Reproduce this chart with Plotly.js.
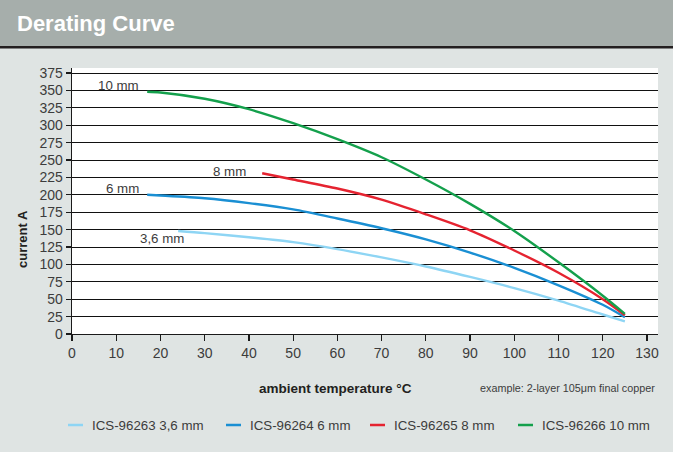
<!DOCTYPE html>
<html>
<head>
<meta charset="utf-8">
<script src="https://cdn.plot.ly/plotly-3.0.1.min.js"></script>
<style>
html,body{margin:0;padding:0;background:#dfe4e3;}
#chart{width:673px;height:452px;}
</style>
</head>
<body>
<div id="chart"></div>
<script>
// ---- data ----
var temp36 = [24, 30, 40, 50, 60, 70, 80, 90, 100, 110, 120, 125];
var curr36 = [148, 145, 139, 132, 122, 110, 97, 82, 66, 48, 28, 18];

var temp6 = [17, 20, 30, 40, 50, 60, 70, 80, 90, 100, 110, 120, 125];
var curr6 = [200, 199, 195, 188, 179, 166, 152, 136, 117, 95, 70, 42, 24];

var temp8 = [43, 50, 60, 70, 80, 90, 100, 110, 120, 125];
var curr8 = [231, 222, 209, 193, 172, 149, 120, 88, 50, 27];

var temp10 = [17, 20, 30, 40, 50, 60, 70, 80, 90, 100, 110, 120, 125];
var curr10 = [348, 347, 338, 323, 303, 280, 254, 222, 187, 148, 103, 55, 29];

var seriesNames = ["ICS-96263 3,6 mm", "ICS-96264 6 mm", "ICS-96265 8 mm", "ICS-96266 10 mm"];
var curveLabels = ["3,6 mm", "6 mm", "8 mm", "10 mm"];
var xTicks = [0,10,20,30,40,50,60,70,80,90,100,110,120,130];
var yTicks = [0,25,50,75,100,125,150,175,200,225,250,275,300,325,350,375];

var colors = ["#8ed5f4", "#1a8fd3", "#e52330", "#14a04c"];
var FONT = "'Liberation Sans', Arial, sans-serif";
var TXT = '#3c3c3c';

// plot area pixel geometry
var L = 72, R = 658, T = 68, B = 334, W = 673, H = 452;
function px(x){ return (x - L) / (R - L); }
function py(y){ return (B - y) / (B - T); }

var xs = [temp36, temp6, temp8, temp10];
var ys = [curr36, curr6, curr8, curr10];
var traces = [];
for (var i = 0; i < 4; i++) {
  traces.push({
    x: xs[i], y: ys[i], type: 'scatter', mode: 'lines', name: seriesNames[i],
    line: {color: colors[i], width: 2.4, shape: 'spline', smoothing: 0.8},
    hoverinfo: 'skip', showlegend: false
  });
}

var shapes = [
  {type:'rect', xref:'paper', yref:'paper', x0:px(0), x1:px(W), y0:py(46), y1:py(0),
   fillcolor:'#a6aeab', line:{width:0}, layer:'below'},
  {type:'rect', xref:'paper', yref:'paper', x0:px(0), x1:px(W), y0:py(48.5), y1:py(46),
   fillcolor:'#231f20', line:{width:0}, layer:'below'}
];
var annotations = [
  {text:'<b>Derating Curve</b>', xref:'paper', yref:'paper', x:px(15), y:py(24),
   xanchor:'left', yanchor:'middle', showarrow:false,
   font:{family:FONT, size:22, color:'#ffffff'}},
  {text:'<b>ambient temperature °C</b>', xref:'paper', yref:'paper', x:px(335.5), y:py(388),
   xanchor:'center', yanchor:'middle', showarrow:false,
   font:{family:FONT, size:13.5, color:'#231f20'}},
  {text:'example: 2-layer 105μm final copper', xref:'paper', yref:'paper', x:px(657), y:py(388),
   xanchor:'right', yanchor:'middle', showarrow:false,
   font:{family:FONT, size:10.8, color:TXT}},
  {text:'<b>current A</b>', xref:'paper', yref:'paper', x:px(23), y:py(239),
   xanchor:'center', yanchor:'middle', showarrow:false, textangle:-90,
   font:{family:FONT, size:13, color:'#231f20'}}
];
// curve labels
var labelPos = [[186, 239], [141, 188], [248, 171], [141, 85]];
for (var j = 0; j < 4; j++) {
  annotations.push({text: curveLabels[j], xref:'paper', yref:'paper',
    x: px(labelPos[j][0]), y: py(labelPos[j][1]), xanchor:'right', yanchor:'middle',
    showarrow:false, font:{family:FONT, size:13.3, color:TXT}});
}
// manual legend
var legX = [68, 226, 370, 518];
for (var k = 0; k < 4; k++) {
  shapes.push({type:'line', xref:'paper', yref:'paper',
    x0: px(legX[k]), x1: px(legX[k] + 15), y0: py(425), y1: py(425),
    line:{color: colors[k], width: 2.5}});
  annotations.push({text: seriesNames[k], xref:'paper', yref:'paper',
    x: px(legX[k] + 22), y: py(425), xanchor:'left', yanchor:'middle', showarrow:false,
    font:{family:FONT, size:13.3, color:TXT}});
}

var layout = {
  width: W, height: H,
  margin: {l: L, r: W - R, t: T, b: H - B, pad: 0},
  paper_bgcolor: '#dfe4e3', plot_bgcolor: '#ffffff',
  showlegend: false,
  font: {family: FONT, size: 14, color: TXT},
  xaxis: {range: [0, (R - L) / 575 * 130], tickvals: xTicks, ticktext: xTicks.map(String),
    showgrid: false, zeroline: false, showline: true, linecolor: '#1a1a1a', linewidth: 1.3,
    ticks: 'outside', ticklen: 6, tickcolor: '#1a1a1a', tickwidth: 1.2,
    tickfont: {family: FONT, size: 14, color: TXT}, fixedrange: true},
  yaxis: {range: [0, (B - T) / 261 * 375], tickvals: yTicks, ticktext: yTicks.map(String),
    showgrid: true, gridcolor: '#111111', gridwidth: 1, zeroline: false,
    showline: true, linecolor: '#1a1a1a', linewidth: 1.3,
    ticks: 'outside', ticklen: 5, tickcolor: '#1a1a1a', tickwidth: 1.2,
    tickfont: {family: FONT, size: 14, color: TXT}, fixedrange: true},
  shapes: shapes,
  annotations: annotations
};

Plotly.newPlot('chart', traces, layout, {displayModeBar: false, staticPlot: true});
</script>
</body>
</html>
